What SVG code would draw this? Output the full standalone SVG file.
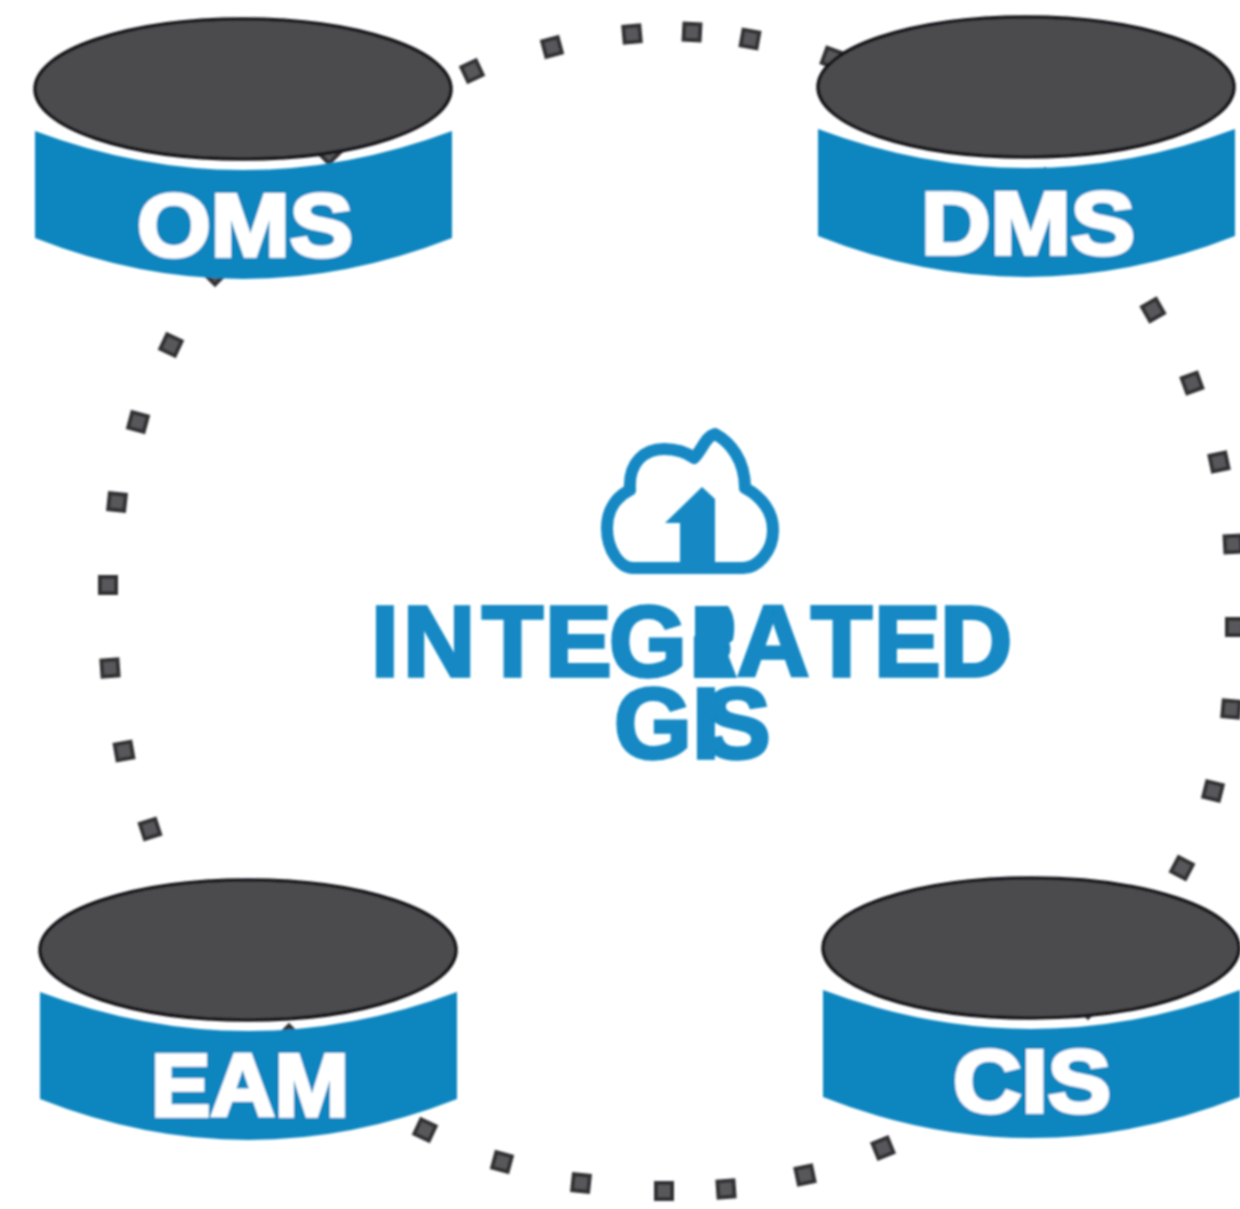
<svg xmlns="http://www.w3.org/2000/svg" width="1240" height="1209" viewBox="0 0 1240 1209">
<style>
.top{fill:#4b4c4e;stroke:#18181a;stroke-width:3.500}
.band{fill:#0f86c0}
.lbl{font-family:"Liberation Sans",Arial,sans-serif;font-weight:700;font-size:89px;fill:#fff;stroke:#fff;stroke-width:3.500;text-anchor:middle}
.title{font-family:"Liberation Sans",Arial,sans-serif;font-weight:700;font-size:100px;fill:#1288c4;stroke:#1288c4;stroke-width:3.500}
.d{fill:#59595c;stroke:#323234;stroke-width:4}
</style>
<defs>
<filter id="scan" filterUnits="userSpaceOnUse" x="0" y="0" width="1240" height="1209"><feGaussianBlur stdDeviation="0.8"/></filter>
<g id="cyl">
<path class="band" d="M-208 42Q0 120 209 42L209 149Q0 231 -208 149Z"/>
<ellipse class="top" cx="0" cy="0" rx="208" ry="70"/>
</g>
<rect id="sq" class="d" x="-8" y="-8" width="16" height="16"/>
</defs>
<g filter="url(#scan)">
<g id="connectors">
<use href="#sq" transform="translate(472 71) rotate(-25)"/>
<use href="#sq" transform="translate(552 47) rotate(-15)"/>
<use href="#sq" transform="translate(632 34) rotate(-5)"/>
<use href="#sq" transform="translate(692 32) rotate(3)"/>
<use href="#sq" transform="translate(750 39) rotate(10)"/>
<use href="#sq" transform="translate(832 58) rotate(20)"/>
<use href="#sq" transform="translate(1153 310) rotate(-30)"/>
<use href="#sq" transform="translate(1192 383) rotate(-20)"/>
<use href="#sq" transform="translate(1219 462) rotate(-12)"/>
<use href="#sq" transform="translate(1233 544) rotate(-3)"/>
<use href="#sq" transform="translate(1235 627)"/>
<use href="#sq" transform="translate(1231 709) rotate(5)"/>
<use href="#sq" transform="translate(1213 791) rotate(14)"/>
<use href="#sq" transform="translate(1182 868) rotate(28)"/>
<use href="#sq" transform="translate(425 1130) rotate(25)"/>
<use href="#sq" transform="translate(502 1162) rotate(15)"/>
<use href="#sq" transform="translate(581 1183) rotate(6)"/>
<use href="#sq" transform="translate(664 1191)"/>
<use href="#sq" transform="translate(726 1189) rotate(-4)"/>
<use href="#sq" transform="translate(805 1175) rotate(-12)"/>
<use href="#sq" transform="translate(883 1148) rotate(-22)"/>
<use href="#sq" transform="translate(171 345) rotate(25)"/>
<use href="#sq" transform="translate(138 422) rotate(15)"/>
<use href="#sq" transform="translate(117 502) rotate(6)"/>
<use href="#sq" transform="translate(108 585)"/>
<use href="#sq" transform="translate(110 668) rotate(-4)"/>
<use href="#sq" transform="translate(124 751) rotate(-10)"/>
<use href="#sq" transform="translate(150 829) rotate(-18)"/>
<use href="#sq" transform="translate(329 152) rotate(45)"/>
<use href="#sq" transform="translate(215 273) rotate(45)"/>
<use href="#sq" transform="translate(1045 181) rotate(45)"/>
<use href="#sq" transform="translate(289 1037) rotate(45)"/>
<use href="#sq" transform="translate(1088 1006) rotate(45)"/>
</g>
<g id="oms"><use href="#cyl" transform="translate(243 89)"/>
<text class="lbl" x="245" y="256" textLength="216" lengthAdjust="spacingAndGlyphs">OMS</text></g>
<g id="dms"><use href="#cyl" transform="translate(1026 87)"/>
<text class="lbl" x="1028" y="254" textLength="214" lengthAdjust="spacingAndGlyphs">DMS</text></g>
<g id="eam"><use href="#cyl" transform="translate(248 950)"/>
<text class="lbl" x="250" y="1116" textLength="198" lengthAdjust="spacingAndGlyphs">EAM</text></g>
<g id="cis"><use href="#cyl" transform="translate(1031 948)"/>
<text class="lbl" x="1032" y="1112" textLength="158" lengthAdjust="spacingAndGlyphs">CIS</text></g>
<g id="integrated-gis">
<path d="M633 568C620 568 607 550 607 528C607 510 616 497 630 490C628 462 645 449 664 449C677 449 686 452 694 458C702 450 706 436 715 434C730 442 745 460 745 488C762 497 773 512 773 530C773 552 757 568 743 568Z" fill="none" stroke="#1288c4" stroke-width="12" stroke-linejoin="round"/>
<path d="M680 566V523H665L702 487L715 499V566Z" fill="#1288c4"/>
<text class="title" x="371 403 482 545 609" y="676">INTEG<tspan font-size="55" x="692">R</tspan><tspan x="737 811 874 940">ATED</tspan></text>
<text class="title" x="614 692 704" y="758">GIS</text>
<path d="M695 606H728Q737 618 733 640L725 647L737 678H695Z" fill="#1288c4"/>
</g>
</g>
</svg>
